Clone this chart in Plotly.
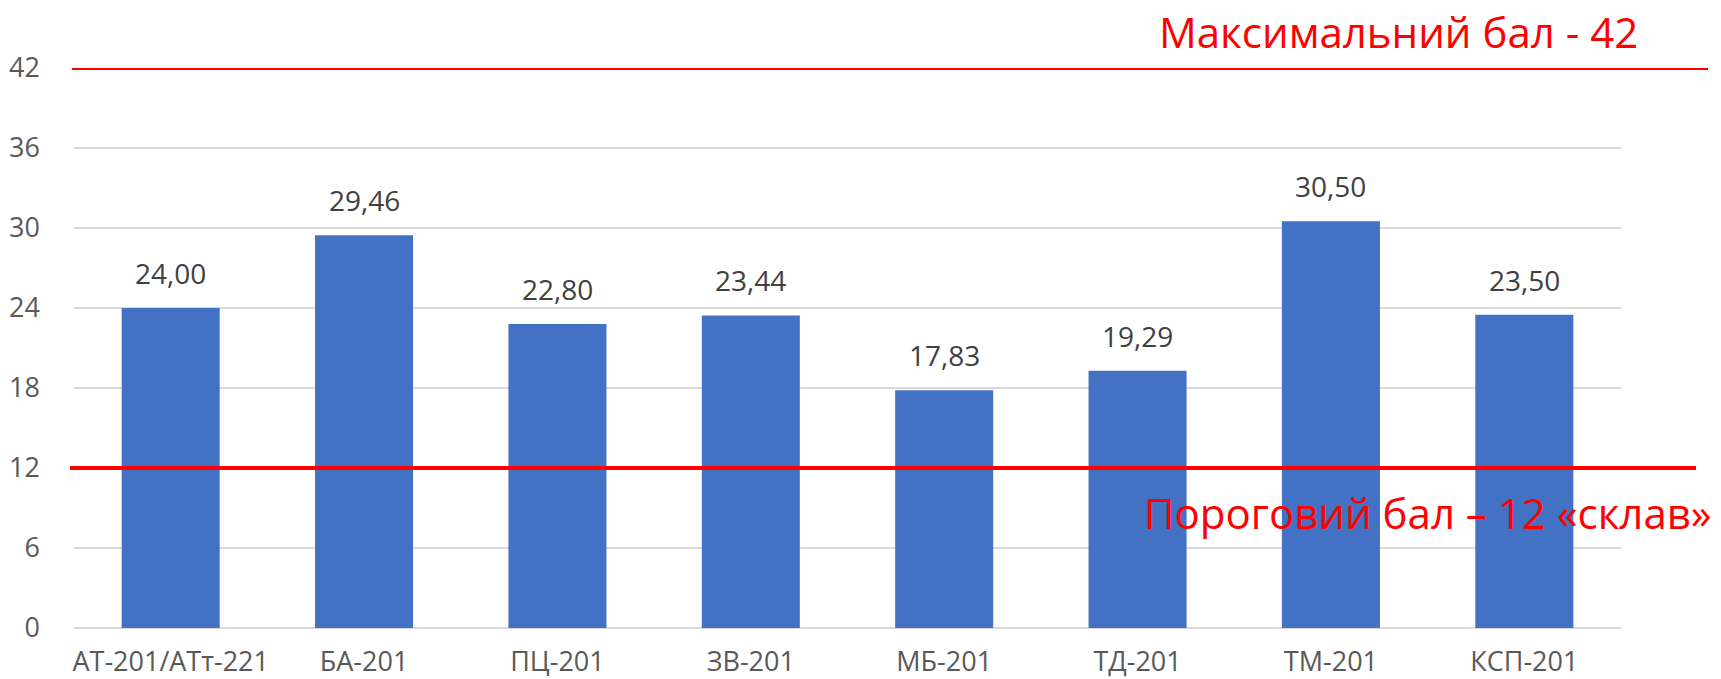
import plotly.graph_objects as go

categories = ["АТ-201/АТт-221", "БА-201", "ПЦ-201", "ЗВ-201", "МБ-201", "ТД-201", "ТМ-201", "КСП-201"]
scores = [24.00, 29.46, 22.80, 23.44, 17.83, 19.29, 30.50, 23.50]
y_ticks = [0, 6, 12, 18, 24, 30, 36, 42]
max_score = 42
threshold = 12
max_label = "Максимальний бал - 42"
threshold_label = "Пороговий бал – 12 «склав»"

FONT = "Open Sans"

fig = go.Figure()
fig.add_trace(go.Bar(
    x=categories,
    y=scores,
    marker=dict(color="#4372c4", line=dict(width=0)),
    width=0.507,
    hoverinfo="x+y",
))

annotations = []
for c, v in zip(categories, scores):
    annotations.append(dict(
        x=c, y=v, xref="x", yref="y",
        text=f"{v:.2f}".replace(".", ","),
        showarrow=False, yanchor="bottom", yshift=14,
        font=dict(family=FONT, size=28, color="#404040"),
    ))

annotations.append(dict(
    x=1.0123, y=1.066, xref="paper", yref="paper",
    text=max_label, showarrow=False, xanchor="right", yanchor="middle",
    font=dict(family=FONT, size=42, color="#ff0000"),
))
annotations.append(dict(
    x=1.0601, y=0.207, xref="paper", yref="paper",
    text=threshold_label, showarrow=False, xanchor="right", yanchor="middle",
    font=dict(family=FONT, size=42, color="#ff0000"),
))

shapes = [
    dict(type="line", xref="paper", yref="y", x0=-0.0013, x1=1.0563,
         y0=max_score, y1=max_score, line=dict(color="#ff0000", width=4)),
    dict(type="line", xref="paper", yref="y", x0=-0.0026, x1=1.0485,
         y0=threshold, y1=threshold, line=dict(color="#ff0000", width=4)),
]

fig.update_layout(
    width=1713, height=671,
    margin=dict(l=66, r=100, t=60, b=51),
    paper_bgcolor="white", plot_bgcolor="white",
    showlegend=False,
    separators=", ",
    bargap=0.49,
    annotations=annotations,
    shapes=shapes,
    font=dict(family=FONT, size=27, color="#595959"),
)
fig.update_xaxes(
    showgrid=False, showline=False, ticks="", zeroline=False,
    tickfont=dict(family=FONT, size=27, color="#595959"),
    ticklabelstandoff=15, automargin=False,
)
fig.update_yaxes(
    range=[0, max_score], tickvals=y_ticks, ticktext=[str(t) for t in y_ticks],
    showgrid=True, gridcolor="#d9d9d9", gridwidth=1.5,
    zeroline=True, zerolinecolor="#d9d9d9", zerolinewidth=1.5,
    showline=False, ticks="",
    tickfont=dict(family=FONT, size=27, color="#595959"),
    ticklabelstandoff=33, automargin=False,
)

fig.write_html("out.html")
